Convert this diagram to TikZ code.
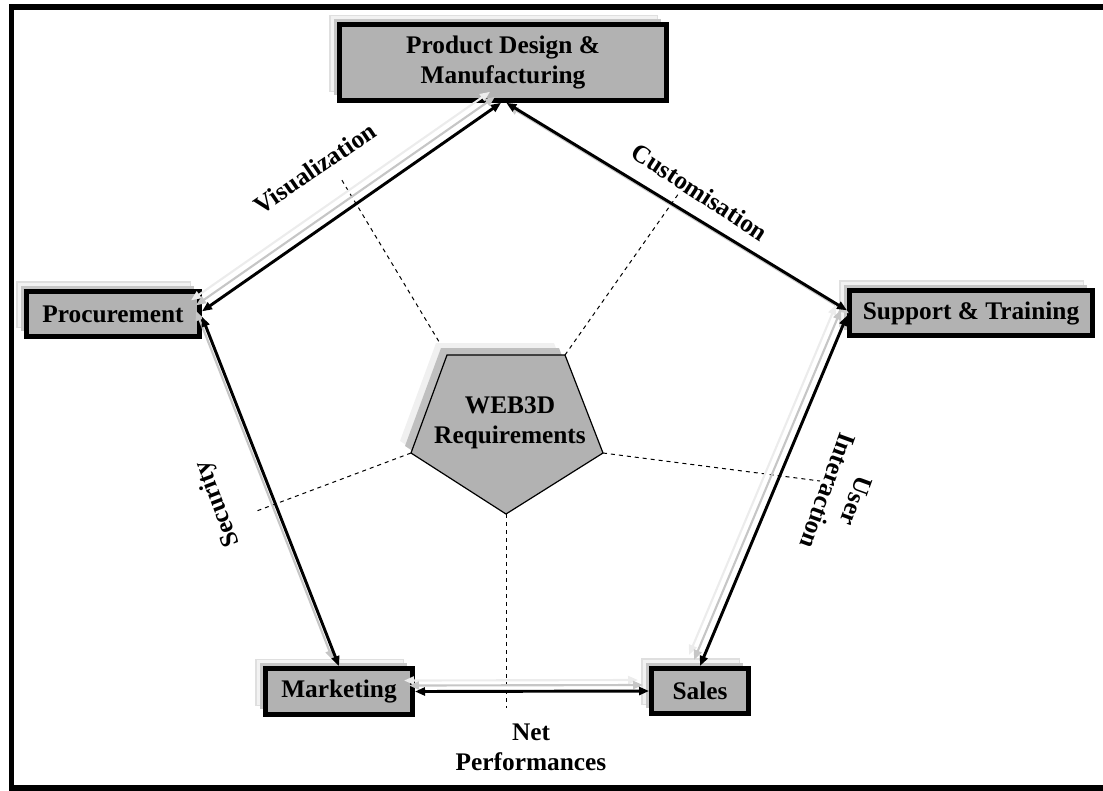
\documentclass[tikz,border=0pt]{standalone}
\usepackage{fontspec}
\setmainfont{Liberation Serif}
\usetikzlibrary{arrows.meta,shadows}

\begin{document}
\begin{tikzpicture}[x=0.75pt, y=-0.75pt,
		schrift/.style={font=\bfseries\fontsize{19}{22.5}\selectfont, align=center},
		kasten/.style={schrift, draw, line width=3.5pt, fill=black!30, inner sep=0pt,
			drop shadow={shadow xshift=-7pt, shadow yshift=7pt, opacity=1,
				fill=gray!10, draw=gray!25, line width=1pt},
			drop shadow={shadow xshift=-4pt, shadow yshift=4pt, opacity=1,
				fill=gray!45, draw=none}},
		pfeil/.style={line width=2.2pt,
			{Triangle[length=7.5pt,width=6pt]}-{Triangle[length=7.5pt,width=6pt]}},
		schatten/.style={draw=gray!45, line width=1.6pt, transform canvas={shift={(-6,-6)}}},
		schattenhell/.style={draw=gray!15, line width=1.6pt, transform canvas={shift={(-11,-11)}}},
		hilfslinie/.style={dashed, line width=0.75pt}]
		\useasboundingbox (0,0) rectangle (1103,790);
		% Rahmen
		\draw[line width=3.8pt] (1103,7) -| (11.5,788) -- (1103,788);
		% Kaesten
		\node[kasten, minimum width=245.5pt, minimum height=57pt] (pdm) at (503,62.5)
			{Product Design \&\\Manufacturing};
		\node[kasten, minimum width=130pt, minimum height=34pt] (proc) at (113,314) {Procurement};
		\node[kasten, minimum width=182.5pt, minimum height=34pt] (supp) at (971,313) {Support \& Training};
		\node[kasten, minimum width=110.5pt, minimum height=34.5pt] (mkt) at (339,691.5) {Marketing};
		\node[kasten, minimum width=73pt, minimum height=34pt] (sales) at (700,691) {Sales};
		% Kern
		\coordinate (p1) at (447,355);
		\coordinate (p2) at (565,355);
		\coordinate (p3) at (603,453);
		\coordinate (p4) at (506,514);
		\coordinate (p5) at (411,453);
		\coordinate (d1) at (340,177);
		\coordinate (d2) at (679,193);
		\coordinate (d3) at (820,481);
		\coordinate (d4) at (254,512);
		\coordinate (d5) at (506,708);
		\draw[hilfslinie] (p1) -- (d1);
		\draw[hilfslinie] (p2) -- (d2);
		\draw[hilfslinie] (p3) -- (d3);
		\draw[hilfslinie] (p5) -- (d4);
		\draw[hilfslinie] (p4) -- (d5);
		\fill[gray!12, transform canvas={shift={(-11,-12)}}] (p1) -- (p2) -- (p3) -- (p4) -- (p5) -- cycle;
		\fill[gray!50, transform canvas={shift={(-6,-7)}}] (p1) -- (p2) -- (p3) -- (p4) -- (p5) -- cycle;
		\draw[fill=black!30, line width=0.9pt] (p1) -- (p2) -- (p3) -- (p4) -- (p5) -- cycle;
		\node[schrift] (kern) at (510,423) {WEB3D\\Requirements};
		% Verbindungen
		\draw[pfeil, schattenhell] ([yshift=2pt]proc.east) -- ([xshift=-1.5pt]pdm.south);
		\draw[pfeil, schatten] ([yshift=2pt]proc.east) -- ([xshift=-1.5pt]pdm.south);
		\draw[pfeil] ([yshift=2pt]proc.east) -- ([xshift=-1.5pt]pdm.south);
		\draw[pfeil, draw=gray!40, line width=1.6pt, transform canvas={shift={(2,3)}}]
			([xshift=2.5pt]pdm.south) -- ([yshift=2pt]supp.west);
		\draw[pfeil] ([xshift=2.5pt]pdm.south) -- ([yshift=2pt]supp.west);
		\draw[pfeil, schatten] ([yshift=-2pt]proc.east) -- (mkt.north);
		\draw[pfeil] ([yshift=-2pt]proc.east) -- (mkt.north);
		\draw[pfeil, schattenhell] ([yshift=-2pt]supp.west) -- (sales.north);
		\draw[pfeil, schatten] ([yshift=-2pt]supp.west) -- (sales.north);
		\draw[pfeil] ([yshift=-2pt]supp.west) -- (sales.north);
		\draw[pfeil, schattenhell] (mkt.east) -- (sales.west);
		\draw[pfeil, schatten] (mkt.east) -- (sales.west);
		\draw[pfeil] (mkt.east) -- (sales.west);
		% Beschriftung
		\node[schrift, rotate=34.5] (vis) at (315,168) {Visualization};
		\node[schrift, rotate=-33] (cust) at (700,192) {Customisation};
		\node[schrift, rotate=111] (sec) at (218,504) {Security};
		\node[schrift, rotate=-110] (user) at (842,496) {User\\Interaction};
		\node[schrift] (net) at (531,747) {Net\\Performances};
	\end{tikzpicture}
\end{document}
